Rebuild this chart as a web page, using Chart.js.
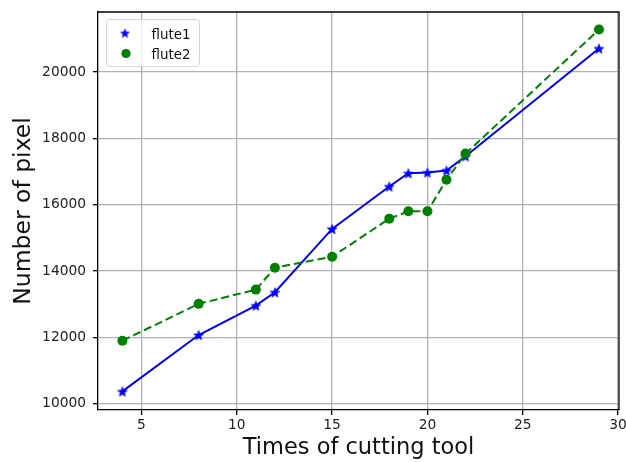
<!DOCTYPE html>
<html>
<head>
<meta charset="utf-8">
<script src="https://cdn.jsdelivr.net/npm/chart.js@4/dist/chart.umd.min.js"></script>
<style>
  html, body { margin: 0; padding: 0; background: #fff; }
  #wrap { width: 626px; height: 462px; }
</style>
</head>
<body>
<div id="wrap"><canvas id="c" width="626" height="462"></canvas></div>
<script>
const times = [4, 8, 11, 12, 15, 18, 19, 20, 21, 22, 29];
const flute1 = [10370, 12070, 12960, 13360, 15270, 16550, 16950, 16970, 17030, 17460, 20710];
const flute2 = [11900, 13010, 13440, 14100, 14430, 15580, 15800, 15800, 16750, 17540, 21280];
const xTicks = [5, 10, 15, 20, 25, 30];
const yTicks = [10000, 12000, 14000, 16000, 18000, 20000];
const seriesLabels = ['flute1', 'flute2'];
const xTitle = 'Times of cutting tool';
const yTitle = 'Number of pixel';

const BLUE = '#0000ff';
const GREEN = '#008000';
const FONT = "'DejaVu Sans', sans-serif";

function starPath(ctx, cx, cy, rOut, rIn) {
  ctx.beginPath();
  for (let i = 0; i < 10; i++) {
    const r = i % 2 === 0 ? rOut : rIn;
    const a = -Math.PI / 2 + i * Math.PI / 5;
    const px = cx + r * Math.cos(a), py = cy + r * Math.sin(a);
    if (i === 0) ctx.moveTo(px, py); else ctx.lineTo(px, py);
  }
  ctx.closePath();
}
function makeStar(size, rOut, color) {
  const c = document.createElement('canvas');
  c.width = size; c.height = size;
  const g = c.getContext('2d');
  g.fillStyle = color;
  g.strokeStyle = color;
  g.lineWidth = 0.8;
  starPath(g, size / 2, size / 2 + 0.6, rOut, rOut * 0.42);
  g.fill(); g.stroke();
  return c;
}
const starImg = makeStar(12, 5, BLUE);
const starLegend = makeStar(11, 4.5, BLUE);

const pts = (ys) => times.map((t, i) => ({ x: t, y: ys[i] }));

const frameAndLegend = {
  id: 'frameAndLegend',
  afterDraw(chart) {
    const ctx = chart.ctx;
    const a = chart.chartArea;
    ctx.save();
    ctx.strokeStyle = '#000';
    ctx.lineWidth = 1.3;
    ctx.beginPath();
    ctx.moveTo(a.left, a.top);
    ctx.lineTo(a.right, a.top);
    ctx.lineTo(a.right, a.bottom);
    ctx.stroke();
    const bx = 106.5, by = 19.5, bw = 93, bh = 47, r = 3;
    ctx.beginPath();
    ctx.moveTo(bx + r, by);
    ctx.lineTo(bx + bw - r, by);
    ctx.arcTo(bx + bw, by, bx + bw, by + r, r);
    ctx.lineTo(bx + bw, by + bh - r);
    ctx.arcTo(bx + bw, by + bh, bx + bw - r, by + bh, r);
    ctx.lineTo(bx + r, by + bh);
    ctx.arcTo(bx, by + bh, bx, by + bh - r, r);
    ctx.lineTo(bx, by + r);
    ctx.arcTo(bx, by, bx + r, by, r);
    ctx.closePath();
    ctx.fillStyle = 'rgba(255,255,255,0.8)';
    ctx.fill();
    ctx.strokeStyle = '#d6d6d6';
    ctx.lineWidth = 1;
    ctx.stroke();
    const ds = chart.data.datasets;
    ctx.drawImage(starLegend, 125 - 5.5, 33 - 5.5);
    ctx.fillStyle = ds[1].pointBackgroundColor;
    ctx.beginPath();
    ctx.arc(126, 53.5, 4.6, 0, Math.PI * 2);
    ctx.fill();
    ctx.fillStyle = '#111';
    ctx.font = '13.4px ' + FONT;
    ctx.textBaseline = 'alphabetic';
    ctx.textAlign = 'left';
    ctx.fillText(ds[0].label, 151.5, 38.5);
    ctx.fillText(ds[1].label, 151.5, 59);
    ctx.restore();
  }
};

new Chart(document.getElementById('c'), {
  type: 'scatter',
  data: {
    datasets: [
      {
        label: seriesLabels[0],
        data: pts(flute1),
        showLine: true,
        borderColor: BLUE,
        backgroundColor: BLUE,
        borderWidth: 2,
        pointStyle: starImg,
        pointBackgroundColor: BLUE,
        pointRadius: 5,
        order: 1
      },
      {
        label: seriesLabels[1],
        data: pts(flute2),
        showLine: true,
        borderColor: GREEN,
        backgroundColor: GREEN,
        borderWidth: 2,
        borderDash: [8, 4],
        pointStyle: 'circle',
        pointBackgroundColor: GREEN,
        pointBorderColor: GREEN,
        pointBorderWidth: 0,
        pointRadius: 5,
        order: 0
      }
    ]
  },
  options: {
    responsive: false,
    animation: false,
    devicePixelRatio: 1,
    layout: { padding: { top: 12, right: 5, left: 0, bottom: 0 } },
    plugins: {
      legend: { display: false },
      tooltip: { enabled: false }
    },
    scales: {
      x: {
        type: 'linear',
        min: 2.72,
        max: 30.05,
        afterBuildTicks(s) { s.ticks = xTicks.map(v => ({ value: v })); },
        afterFit(s) { s.height = 52; s.paddingLeft = 0; s.paddingRight = 0; },
        ticks: {
          padding: 2,
          color: '#222',
          maxRotation: 0,
          autoSkip: false,
          font: { family: FONT, size: 13.8 }
        },
        grid: {
          color: '#b0b0b0',
          lineWidth: 1.3,
          tickLength: 5,
          tickColor: '#000',
          tickWidth: 1.3
        },
        border: { color: '#000', width: 1.3 },
        title: {
          display: true,
          text: xTitle,
          color: '#111',
          font: { family: FONT, size: 22.5 },
          padding: { top: 0, bottom: 0 }
        }
      },
      y: {
        type: 'linear',
        min: 9810,
        max: 21810,
        afterBuildTicks(s) { s.ticks = yTicks.map(v => ({ value: v })); },
        afterFit(s) { s.width = 98; s.paddingTop = 0; s.paddingBottom = 0; },
        ticks: {
          padding: 7,
          color: '#222',
          autoSkip: false,
          font: { family: FONT, size: 13.8 },
          callback: (v) => String(v)
        },
        grid: {
          color: '#b0b0b0',
          lineWidth: 1.3,
          tickLength: 5,
          tickColor: '#000',
          tickWidth: 1.3
        },
        border: { color: '#000', width: 1.3 },
        title: {
          display: true,
          text: yTitle,
          color: '#111',
          font: { family: FONT, size: 23.5 },
          padding: { top: 9.5, bottom: 0 }
        }
      }
    }
  },
  plugins: [frameAndLegend]
});
</script>
</body>
</html>
